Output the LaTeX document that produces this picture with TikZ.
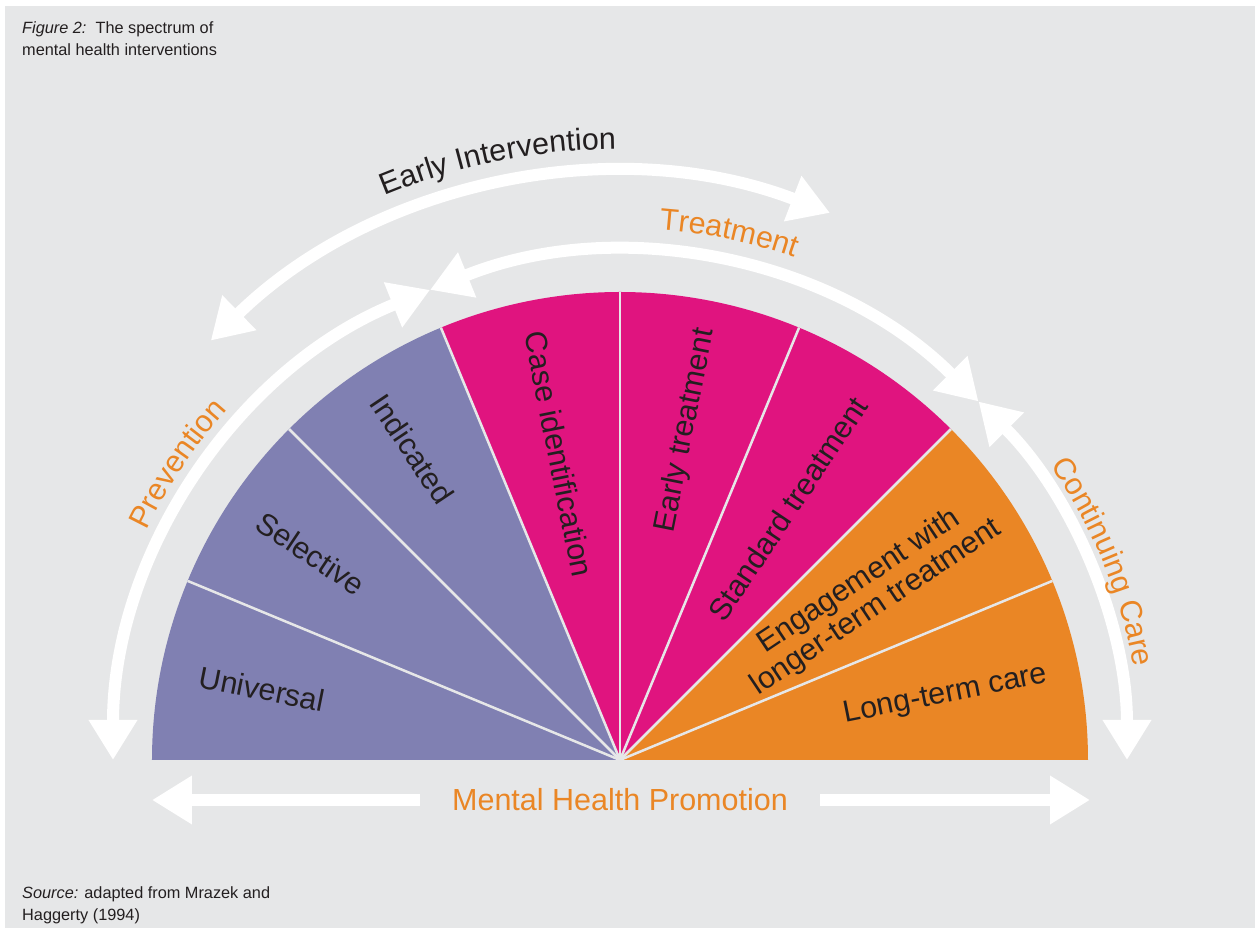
\documentclass[tikz,border=0pt]{standalone}
\usepackage{fontspec}
\setmainfont{Liberation Sans}
\usetikzlibrary{arrows.meta,decorations.text}

\definecolor{bggray}{HTML}{E6E7E8}
\definecolor{spurple}{HTML}{8080B2}
\definecolor{smagenta}{HTML}{E0147F}
\definecolor{sorange}{HTML}{EA8625}
\definecolor{ink}{HTML}{231F20}

\newcommand{\labelfont}{\fontsize{30.5}{31}\selectfont}
\newcommand{\notefont}{\fontsize{16.3}{22}\selectfont}

\tikzset{
	sector label/.style={font=\labelfont, text=ink, inner sep=0pt, align=center},
	note/.style={font=\notefont, text=ink, inner sep=0pt, align=left, anchor=north west},
	band/.style={draw=white, line width=12pt},
	sep line/.style={draw=bggray, line width=2.5pt},
	arc text/.style args={#1/#2}{decorate, decoration={text along path, text align=center, text color=#2, text={|\labelfont|#1}}}
}

\begin{document}
\begin{tikzpicture}[x=1pt, y=1pt, >={Triangle[length=40pt,width=46pt]}]
					\useasboundingbox[fill=white] (-620,-168) rectangle (639,760);
					\fill[bggray] (-615,-168) rectangle (635,754);
					\foreach \s/\col in {0/spurple,1/spurple,2/spurple,3/smagenta,4/smagenta,5/smagenta,6/sorange,7/sorange}
						\fill[\col] (0,0) -- ({180-22.5*\s}:468) arc[start angle={180-22.5*\s}, end angle={157.5-22.5*\s}, radius=468] -- cycle;
					\foreach \a in {22.5,45,...,157.5}
						\draw[sep line] (0,0) -- (\a:468);
					\node[sector label, rotate=-11.25] (universal) at (168.75:365) {Universal};
					\node[sector label, rotate=-33.75] (selective) at (146.25:372) {Selective};
					\node[sector label, rotate=-56.25] (indicated) at (123.75:374) {Indicated};
					\node[sector label, rotate=-78.75] (caseid) at (101.25:312) {Case identification};
					\node[sector label, rotate=78.75] (earlytreat) at (78.75:336) {Early treatment};
					\node[sector label, rotate=56.25] (standard) at (56.25:302) {Standard treatment};
					\node[sector label, rotate=33.75] (engage) at (33.75:298) {Engagement with\\longer-term treatment};
					\node[sector label, rotate=11.25] (longterm) at (11.25:332) {Long-term care};
					\coordinate (ei left) at (134.3:586);
					\coordinate (tr left) at (112:507);
					\coordinate (cc top) at (45:507);
					\coordinate (pr bottom) at (180:507);
					\draw[band, <->] (ei left) arc[start angle=134.3, end angle=69, radius=586];
					\draw[band, <->] (tr left) arc[start angle=112, end angle=45, radius=507];
					\draw[band, <->] (pr bottom) arc[start angle=180, end angle=112, radius=507];
					\draw[band, <->] (cc top) arc[start angle=45, end angle=0, radius=507];
					\path[arc text={Early Intervention/ink}] (121.5:611) arc[start angle=121.5, end angle=81.5, radius=611];
					\path[arc text={Treatment/sorange}] (88.3:532) arc[start angle=88.3, end angle=68.3, radius=532];
					\path[arc text={Prevention/sorange}] (166.2:526) arc[start angle=166.2, end angle=126.2, radius=526];
					\path[arc text={Continuing Care/sorange}] (42.3:522) arc[start angle=42.3, end angle=2.3, radius=522];
					\node[sector label, text=sorange] (promo) at (0,-40) {Mental Health Promotion};
					\coordinate (promo left) at (-468,-40);
					\coordinate (promo right) at (470,-40);
					\draw[band, ->] ([xshift=-32pt]promo.west) -- (promo left);
					\draw[band, ->] ([xshift=32pt]promo.east) -- (promo right);
					\node[note] (caption) at (-598,738) {\textit{Figure 2:}\ \ The spectrum of\\mental health interventions};
					\node[note] (source) at (-598,-126) {\textit{Source:} adapted from Mrazek and\\Haggerty (1994)};
				\end{tikzpicture}
\end{document}
